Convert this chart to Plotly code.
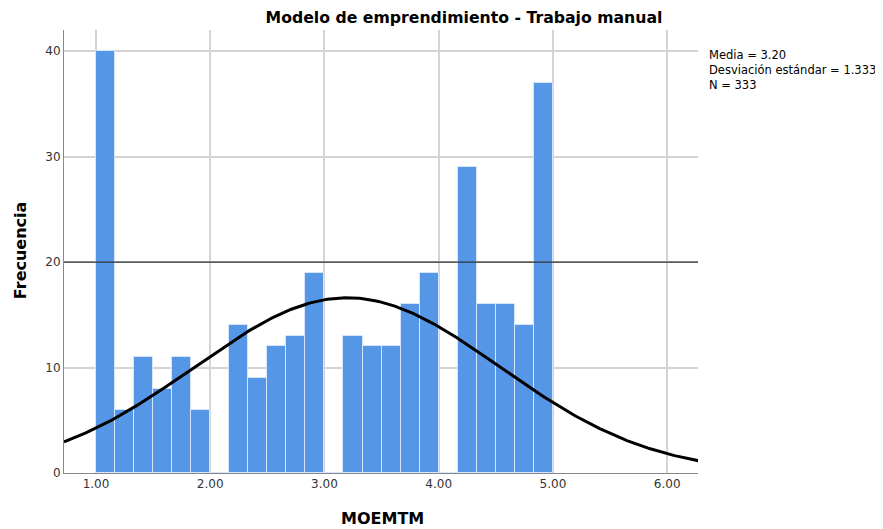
import numpy as np
import plotly.graph_objects as go

# Histogram bins (width 1/6) from 1.00 to 5.00
bin_start = 1.0
bin_width = 1.0 / 6.0
counts = [40, 6, 11, 8, 11, 6, 0, 14, 9, 12, 13, 19,
          0, 13, 12, 12, 16, 19, 0, 29, 16, 16, 14, 37]

mean_val = 3.20
sd_val = 1.333
n_val = 333

x_ticks = [1, 2, 3, 4, 5, 6]
x_tick_labels = ["1.00", "2.00", "3.00", "4.00", "5.00", "6.00"]
y_ticks = [0, 10, 20, 30, 40]

centers = [bin_start + bin_width * (i + 0.5) for i in range(len(counts))]

# Fitted normal curve from stated statistics
xc = np.linspace(0.72, 6.28, 300)
yc = n_val * bin_width / (sd_val * np.sqrt(2 * np.pi)) * np.exp(-0.5 * ((xc - mean_val) / sd_val) ** 2)

fig = go.Figure()
fig.add_trace(go.Bar(
    x=centers, y=counts, width=bin_width,
    marker=dict(color="#5596e6", line=dict(color="#d6e6fa", width=1)),
    hoverinfo="x+y", showlegend=False,
))
fig.add_trace(go.Scatter(
    x=xc, y=yc, mode="lines", line=dict(color="black", width=3),
    showlegend=False, hoverinfo="skip",
))

# darker reference lines
fig.add_shape(type="line", xref="paper", yref="y", x0=0, x1=1, y0=20, y1=20,
              line=dict(color="#333333", width=1.2), layer="above")
fig.add_shape(type="line", xref="paper", yref="y", x0=0, x1=1, y0=40, y1=40,
              line=dict(color="#a8a8a8", width=1.2), layer="below")

fig.update_layout(
    width=875, height=521,
    margin=dict(l=56, r=185, t=22, b=56),
    paper_bgcolor="white", plot_bgcolor="white",
    bargap=0,
    font=dict(family="DejaVu Sans", size=12, color="#222"),
    title=dict(text="<b>Modelo de emprendimiento - Trabajo manual</b>",
               x=456 / 875, xanchor="center", xref="container",
               y=1 - 9 / 521, yanchor="middle", yref="container",
               font=dict(size=15.7, color="black")),
    xaxis=dict(range=[0.72, 6.27], tickvals=x_ticks, ticktext=x_tick_labels,
               showgrid=True, gridcolor="#d4d4d4", gridwidth=1.5,
               zeroline=False, showline=True, linecolor="#888888", linewidth=1,
               ticks="", tickfont=dict(size=12, color="#333"), automargin=False),
    yaxis=dict(range=[0, 42], tickvals=y_ticks,
               showgrid=True, gridcolor="#d4d4d4", gridwidth=1.5,
               zeroline=False, showline=True, linecolor="#888888", linewidth=1,
               ticks="", tickfont=dict(size=12, color="#333"), automargin=False),
    annotations=[
        dict(text="Media = 3.20<br>Desviación estándar = 1.333<br>N = 333",
             xref="paper", yref="paper", x=1.0, xshift=9, y=0.963, xanchor="left", yanchor="top",
             align="left", showarrow=False, font=dict(size=11.5, color="black")),
        dict(text="<b>MOEMTM</b>", xref="paper", yref="paper", x=0.503, y=0, yshift=-45,
             xanchor="center", yanchor="middle", showarrow=False,
             font=dict(size=16, color="black")),
        dict(text="<b>Frecuencia</b>", xref="paper", yref="paper", x=0, xshift=-44, y=0.503,
             xanchor="center", yanchor="middle", textangle=-90, showarrow=False,
             font=dict(size=16, color="black")),
    ],
)

fig.write_html("out.html")
